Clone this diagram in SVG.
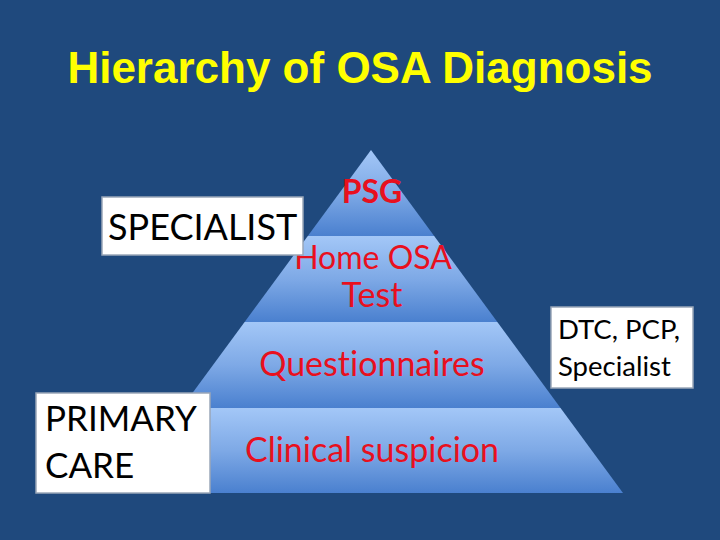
<svg xmlns="http://www.w3.org/2000/svg" width="720" height="540" viewBox="0 0 720 540">
<defs>
<linearGradient id="band" x1="0" y1="0" x2="0" y2="1">
<stop offset="0" stop-color="#a3c7f7"/>
<stop offset="0.5" stop-color="#7ea9e6"/>
<stop offset="1" stop-color="#4a80cf"/>
</linearGradient>
<clipPath id="pyr"><polygon points="371,150 623,493 119,493"/></clipPath>
</defs>
<style>
text{font-variant-ligatures:none}
.lbl{font-family:Lato,"Open Sans",sans-serif;fill:#e8101e;text-anchor:middle;font-size:34px}
.box{fill:#ffffff;stroke:#9aa7b8;stroke-width:1.5}
.bt{font-family:Lato,"Open Sans",sans-serif;fill:#000;font-size:36px}
</style>
<rect width="720" height="540" fill="#1f497d"/>
<text x="360" y="83" font-family="Liberation Sans,Arial,sans-serif" font-weight="bold" font-size="44" fill="#ffff00" text-anchor="middle">Hierarchy of OSA Diagnosis</text>
<g id="pyramid" clip-path="url(#pyr)">
<g id="band-psg"><rect x="100" y="150" width="540" height="86" fill="url(#band)"/></g>
<g id="band-home"><rect x="100" y="236" width="540" height="86" fill="url(#band)"/></g>
<g id="band-quest"><rect x="100" y="322" width="540" height="86" fill="url(#band)"/></g>
<g id="band-clin"><rect x="100" y="408" width="540" height="85" fill="url(#band)"/></g>
</g>
<g id="labels">
<text class="lbl" x="372" y="203" style="font-weight:bold;font-size:32px">PSG</text>
<text class="lbl" x="373" y="269" style="font-size:32px">Home OSA</text>
<text class="lbl" x="372" y="307">Test</text>
<text class="lbl" x="372" y="376">Questionnaires</text>
<text class="lbl" x="372" y="462">Clinical suspicion</text>
</g>
<g id="connectors"></g>
<g id="specialist"><rect class="box" x="102" y="197" width="201" height="58"/><text class="bt" x="108" y="240">SPECIALIST</text></g>
<g id="primary"><rect class="box" x="36" y="393" width="174" height="100"/><text class="bt" x="45" y="431" style="font-size:35px">PRIMARY</text><text class="bt" x="45" y="478" style="font-size:35px">CARE</text></g>
<g id="dtc"><rect class="box" x="551" y="307" width="142" height="81"/><text class="bt" x="558" y="339" style="font-size:27.5px">DTC, PCP,</text><text class="bt" x="558" y="376" style="font-size:27.5px">Specialist</text></g>
</svg>
